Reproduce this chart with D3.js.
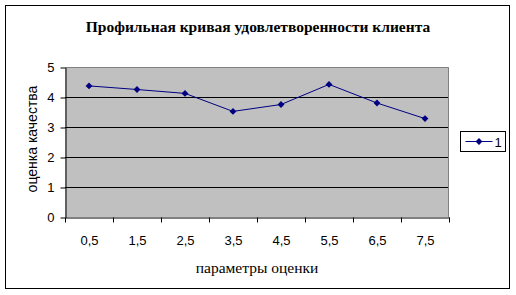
<!DOCTYPE html>
<html>
<head>
<meta charset="utf-8">
<script src="https://cdn.jsdelivr.net/npm/d3@7"></script>
<style>
  body { margin: 0; background: #fff; }
  svg { display: block; }
</style>
</head>
<body>
<svg width="516" height="295"></svg>
<script>
// data
const categories = ["0,5", "1,5", "2,5", "3,5", "4,5", "5,5", "6,5", "7,5"];
const values = [4.37, 4.25, 4.12, 3.52, 3.75, 4.42, 3.8, 3.28];
const yTicks = [0, 1, 2, 3, 4, 5];
const seriesName = "1";

const svg = d3.select("svg");
const plot = {left: 65, right: 449, top: 67, bottom: 217};
const sans = "Liberation Sans, Arial, sans-serif";
const serif = "Liberation Serif, Times New Roman, serif";

// outer frame
svg.append("rect")
  .attr("x", 5.5).attr("y", 5.5)
  .attr("width", 504).attr("height", 283)
  .attr("fill", "#fff").attr("stroke", "#000").attr("stroke-width", 1);

const xScale = d3.scaleBand()
  .domain(categories)
  .range([plot.left, plot.right]);

const yScale = d3.scaleLinear()
  .domain([0, 5])
  .range([plot.bottom, plot.top]);

// plot background
svg.append("rect")
  .attr("x", plot.left).attr("y", plot.top)
  .attr("width", plot.right - plot.left).attr("height", plot.bottom - plot.top)
  .attr("fill", "#c0c0c0");

// gridlines
svg.append("g")
  .selectAll("line")
  .data(yTicks.filter(d => d > 0 && d < 5))
  .enter().append("line")
    .attr("x1", plot.left).attr("x2", plot.right)
    .attr("y1", d => Math.round(yScale(d)) + 0.5)
    .attr("y2", d => Math.round(yScale(d)) + 0.5)
    .attr("stroke", "#000");

// plot area border (top/right grey)
svg.append("path")
  .attr("d", `M${plot.left},${plot.top + 0.5}H${plot.right - 0.5}V${plot.bottom}`)
  .attr("fill", "none").attr("stroke", "#808080");

// y axis
const yAxis = svg.append("g")
  .attr("transform", `translate(${plot.left + 0.5}, 0.5)`)
  .call(d3.axisLeft(yScale).tickValues(yTicks).tickFormat(d3.format("d"))
    .tickSize(5).tickSizeOuter(0).tickPadding(6));
yAxis.select(".domain").attr("stroke", "#000");
yAxis.selectAll("text")
  .attr("font-family", sans)
  .attr("font-size", 13).attr("fill", "#000");

// x axis
const xAxis = svg.append("g")
  .attr("transform", `translate(0.5, ${plot.bottom + 0.5})`)
  .call(d3.axisBottom(xScale).tickSize(0).tickSizeOuter(0).tickPadding(18));
xAxis.select(".domain").attr("stroke", "#000");
xAxis.selectAll("text")
  .attr("font-family", sans)
  .attr("font-size", 13).attr("fill", "#000");
// tick marks between categories
const bounds = categories.map(c => xScale(c)).concat([plot.right]);
xAxis.selectAll(".sep")
  .data(bounds)
  .enter().append("line")
    .attr("class", "sep")
    .attr("x1", d => Math.round(d)).attr("x2", d => Math.round(d))
    .attr("y1", 0).attr("y2", 5)
    .attr("stroke", "#000");

// series line
const line = d3.line()
  .x((d, i) => xScale(categories[i]) + xScale.bandwidth() / 2)
  .y(d => yScale(d));

svg.append("path")
  .datum(values)
  .attr("d", line)
  .attr("fill", "none")
  .attr("stroke", "#000080")
  .attr("stroke-width", 1);

const diamond = d3.symbol().type(d3.symbolDiamond2).size(30);
svg.append("g")
  .selectAll("path")
  .data(values)
  .enter().append("path")
    .attr("d", diamond)
    .attr("transform", (d, i) => `translate(${xScale(categories[i]) + xScale.bandwidth() / 2}, ${yScale(d)})`)
    .attr("fill", "#000080");

// title
svg.append("text")
  .attr("x", 258).attr("y", 32)
  .attr("text-anchor", "middle")
  .attr("font-family", serif)
  .attr("font-weight", "bold")
  .attr("font-size", 15.5)
  .text("Профильная кривая удовлетворенности клиента");

// axis titles
svg.append("text")
  .attr("x", 257).attr("y", 273)
  .attr("text-anchor", "middle")
  .attr("font-family", serif)
  .attr("font-size", 15.5)
  .text("параметры оценки");

svg.append("text")
  .attr("transform", "translate(37, 139) rotate(-90)")
  .attr("text-anchor", "middle")
  .attr("font-family", sans)
  .attr("font-size", 14)
  .text("оценка качества");

// legend
const legend = svg.append("g").attr("transform", "translate(460.5, 131.5)");
legend.append("rect")
  .attr("width", 45).attr("height", 20)
  .attr("fill", "#fff").attr("stroke", "#000");
legend.append("line")
  .attr("x1", 5).attr("x2", 32).attr("y1", 10).attr("y2", 10)
  .attr("stroke", "#000080");
legend.append("path")
  .attr("d", diamond)
  .attr("transform", "translate(18.5, 10)")
  .attr("fill", "#000080");
legend.append("text")
  .attr("x", 34).attr("y", 15)
  .attr("font-family", sans)
  .attr("font-size", 13)
  .text(seriesName);
</script>
</body>
</html>
